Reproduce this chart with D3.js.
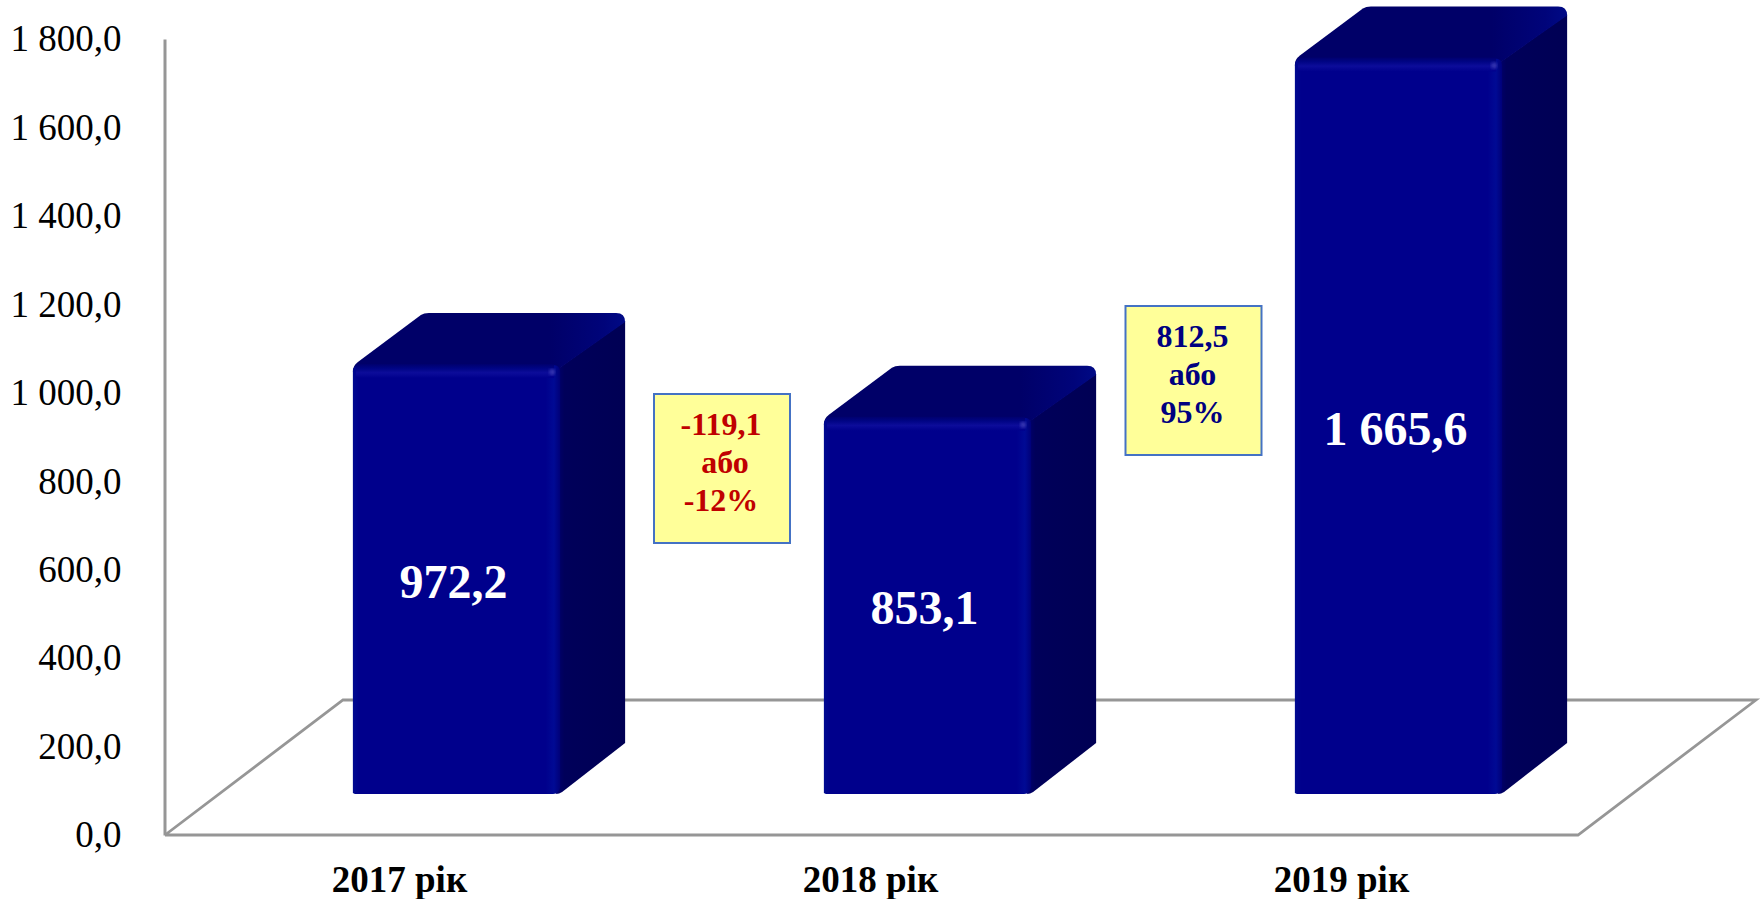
<!DOCTYPE html>
<html><head><meta charset="utf-8">
<script src="https://cdn.jsdelivr.net/npm/d3@7/dist/d3.min.js"></script>
<style>html,body{margin:0;padding:0;background:#fff}svg{display:block}text{font-family:"Liberation Serif","Times New Roman",serif}</style>
</head><body><svg id="c" width="1762" height="899"></svg>
<script>
const categories=["2017 рік","2018 рік","2019 рік"];
const values=[972.2,853.1,1665.6];
const valueLabels=["972,2","853,1","1 665,6"];
const yTicks=[0,200,400,600,800,1000,1200,1400,1600,1800];
const noteLines=[["-119,1"," або","-12%"],["812,5","або","95%"]];
const noteColors=["#C00000","#000080"];

const W=1762,H=899;
const svg=d3.select("#c").attr("viewBox",[0,0,W,H]);
const x=d3.scaleBand().domain(categories).range([165,1578]).paddingInner(0.56).paddingOuter(0.28);
const y=d3.scaleLinear().domain([0,1800]).range([835,39]);
const floor={dx:178,dy:135}, base={dx:56,dy:41}, depth={dx:65,dy:51}, r=7;

const defs=svg.append("defs");
function grad(id,x2,y2,stops){
  const g=defs.append("linearGradient").attr("id",id).attr("x1",0).attr("y1",0).attr("x2",x2).attr("y2",y2);
  stops.forEach(s=>g.append("stop").attr("offset",s[0]).attr("stop-color",s[1]));
}
grad("front",1,0,[[0,"#000A90"],[0.03,"#00008C"],[0.93,"#00008C"],[0.97,"#000A94"],[1,"#000078"]]);
grad("side",1,0,[[0,"#000070"],[0.12,"#00005A"],[1,"#000054"]]);
grad("top",1,0,[[0,"#000068"],[0.72,"#000068"],[0.92,"#00047A"],[1,"#000A86"]]);
grad("edge",0,1,[[0,"#00006E"],[0.3,"#000484"],[0.62,"#0C0C9A"],[1,"#00008C"]]);
defs.append("filter").attr("id","glow").append("feGaussianBlur").attr("stdDeviation",1.6);

// walls and floor
const gridColor="#969696";
const axis=d3.axisLeft(y).tickValues(yTicks).tickSize(0).tickPadding(43)
  .tickFormat(d=>d3.format(",.1f")(d).replace(",","\u00A0").replace(".",","));
const axG=svg.append("g").attr("transform","translate(164.5,0)").call(axis);
axG.select(".domain").attr("stroke",gridColor).attr("stroke-width",3);
axG.selectAll("text").attr("font-size",37).attr("fill","#000").attr("font-family",'"Liberation Serif"');

const fl=[[165,y(0)],[165+floor.dx,y(0)-floor.dy],[1578+floor.dx,y(0)-floor.dy],[1578,y(0)]];
svg.append("path").attr("d",d3.line()([...fl,fl[0]])).attr("fill","none").attr("stroke",gridColor).attr("stroke-width",2.8).attr("stroke-linejoin","miter");

// bars
const bars=svg.selectAll("g.bar").data(categories.map((c,i)=>({c,v:values[i],l:valueLabels[i]}))).join("g").attr("class","bar");
const L=d=>x(d.c)+base.dx, R=d=>L(d)+x.bandwidth(), T=d=>y(d.v)-base.dy, B=()=>y(0)-base.dy;

bars.append("path").attr("fill","url(#side)").attr("d",d=>{
  const xa=R(d)-4,xb=R(d)+depth.dx,t=T(d),b=B();
  return `M${xa},${t+6}L${xb},${t-depth.dy+8}L${xb},${b-depth.dy}L${xa+6},${b-2}Q${xa+3},${b} ${xa},${b}Z`;
});
bars.append("path").attr("fill","url(#top)").attr("d",d=>{
  const l=L(d),rr=R(d),t=T(d),bk=t-depth.dy;
  return `M${l},${t+r}Q${l},${t+2} ${l+5},${t-2}L${l+68},${bk+2}Q${l+71},${bk} ${l+76},${bk}`+
         `L${rr+depth.dx-9},${bk}Q${rr+depth.dx},${bk} ${rr+depth.dx},${bk+9}L${rr-3},${t+6}L${l},${t+8}Z`;
});
bars.append("path").attr("fill","url(#front)").attr("d",d=>{
  const l=L(d),rr=R(d),t=T(d)+1,b=B();
  return `M${l},${b-1}L${l},${t+r}Q${l},${t} ${l+r},${t}L${rr-r},${t}Q${rr},${t} ${rr},${t+r}L${rr},${b-r}Q${rr-1},${b} ${rr-r},${b}L${l+2},${b}Z`;
});
bars.append("rect").attr("fill","url(#edge)")
  .attr("x",d=>L(d)+3).attr("y",d=>T(d)).attr("width",d=>x.bandwidth()-9).attr("height",14);
bars.append("circle").attr("fill","#3434B0").attr("filter","url(#glow)")
  .attr("cx",d=>R(d)-8).attr("cy",d=>T(d)+8).attr("r",3);
bars.append("text").attr("x",d=>L(d)+x.bandwidth()/2-3).attr("y",d=>(T(d)+B())/2+19)
  .attr("text-anchor","middle").attr("font-size",48).attr("font-weight","bold").attr("fill","#fff").text(d=>d.l);

// category labels
svg.selectAll("text.cat").data(categories).join("text").attr("class","cat")
  .attr("x",d=>x(d)+x.bandwidth()/2-1).attr("y",892).attr("text-anchor","middle")
  .attr("font-size",37).attr("font-weight","bold").attr("fill","#000").text(d=>d);

// notes
const noteBox=[{x:654,y:394,w:136,h:149},{x:1125.5,y:306,w:136,h:149}];
const notes=svg.selectAll("g.note").data(noteLines).join("g").attr("class","note")
  .attr("transform",(d,i)=>`translate(${noteBox[i].x},${noteBox[i].y})`);
notes.append("rect").attr("width",(d,i)=>noteBox[i].w).attr("height",(d,i)=>noteBox[i].h)
  .attr("fill","#FFFF99").attr("stroke","#4472C4").attr("stroke-width",2);
notes.each(function(lines,i){
  d3.select(this).selectAll("text").data(lines).join("text")
    .attr("x",noteBox[i].w/2-1).attr("y",(d,j)=>41+j*38).attr("text-anchor","middle")
    .style("white-space","pre")
    .attr("font-size",32).attr("font-weight","bold").attr("fill",noteColors[i]).text(d=>d);
});
</script></body></html>
